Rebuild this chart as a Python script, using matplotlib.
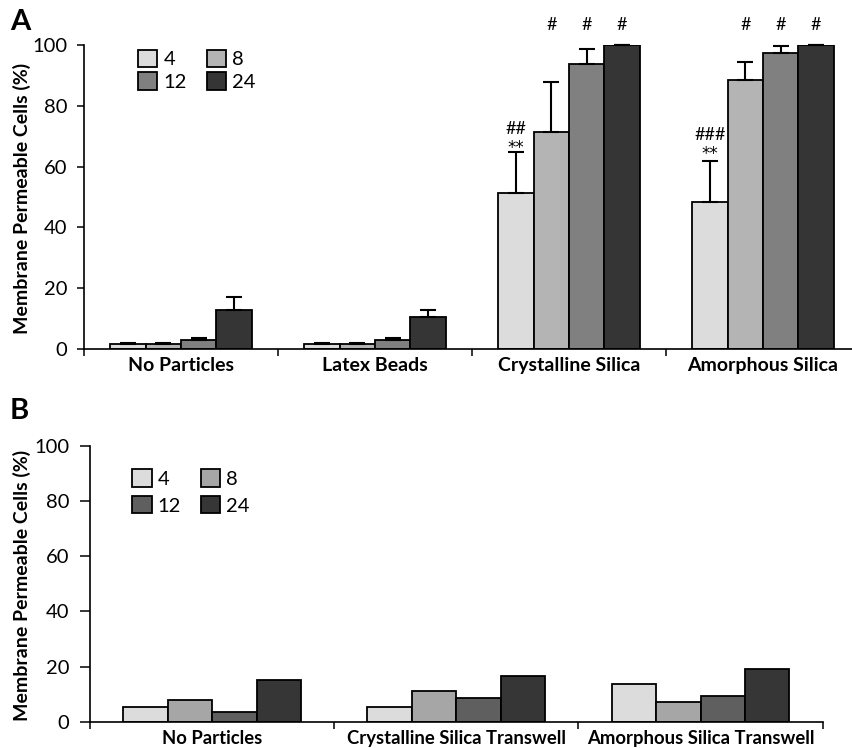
import numpy as np
import matplotlib
matplotlib.use("Agg")
import matplotlib.pyplot as plt

plt.rcParams['font.family'] = ['Lato', 'DejaVu Sans']

# exposure time (h) -> legend entries
hours = ["4", "8", "12", "24"]

# panel A
cats_a = ["No Particles", "Latex Beads", "Crystalline Silica", "Amorphous Silica"]
mean_a = {
    "4":  [1.5, 1.5, 51.2, 48.3],
    "8":  [1.5, 1.5, 71.3, 88.5],
    "12": [3.0, 3.0, 93.6, 97.3],
    "24": [12.9, 10.6, 100.0, 100.0],
}
err_a = {
    "4":  [0.6, 0.6, 13.5, 13.4],
    "8":  [0.6, 0.6, 16.5, 5.8],
    "12": [0.7, 0.6, 5.0, 2.3],
    "24": [4.3, 2.2, 0.0, 0.0],
}
colors_a = ["#dcdcdc", "#b4b4b4", "#808080", "#353535"]

# panel B
cats_b = ["No Particles", "Crystalline Silica Transwell", "Amorphous Silica Transwell"]
mean_b = {
    "4":  [5.4, 5.4, 13.6],
    "8":  [7.9, 11.1, 7.3],
    "12": [3.6, 8.5, 9.4],
    "24": [15.1, 16.6, 19.0],
}
colors_b = ["#dcdcdc", "#a6a6a6", "#5f5f5f", "#363636"]

W, H = 852, 748
fig = plt.figure(figsize=(W / 100, H / 100), dpi=100)

def px_axes(left, right, top, bottom):
    return fig.add_axes([left / W, 1 - bottom / H, (right - left) / W, (bottom - top) / H])

bw = 0.182
offs = (np.arange(4) - 1.5) * bw

def style(ax, cats, ticklen, pad, catsize):
    n = len(cats)
    ax.set_xlim(-0.5, n - 0.5)
    ax.set_ylim(0, 100)
    for s in ["top", "right"]:
        ax.spines[s].set_visible(False)
    for s in ["left", "bottom"]:
        ax.spines[s].set_linewidth(1.2)
    ax.set_yticks(np.arange(0, 101, 20))
    ax.tick_params(axis="y", direction="out", length=ticklen, width=1.1, pad=pad, labelsize=14.5)
    ax.set_xticks(np.arange(n))
    ax.set_xticklabels(cats, fontsize=catsize, fontweight="bold")
    ax.tick_params(axis="x", which="major", length=0, pad=6)
    ax.set_xticks(np.arange(n + 1) - 0.5, minor=True)
    ax.tick_params(axis="x", which="minor", direction="out", length=5, width=1.1)

def legend(ax, handles, anchor, rowgap):
    order = [0, 2, 1, 3]
    ax.legend([handles[i] for i in order], [hours[i] for i in order], ncol=2, frameon=False,
              loc="upper left", bbox_to_anchor=anchor, fontsize=14.5, handlelength=0.95,
              handleheight=0.95, handletextpad=0.3, columnspacing=1.0, labelspacing=rowgap,
              borderpad=0, borderaxespad=0)

# ---- A
ax = px_axes(84, 860, 45, 349)
x = np.arange(len(cats_a))
hs = []
for i, h in enumerate(hours):
    b = ax.bar(x + offs[i], mean_a[h], bw, color=colors_a[i], edgecolor="black", linewidth=1.3, zorder=2)
    hs.append(b)
    ax.errorbar(x + offs[i], mean_a[h], yerr=[np.zeros(len(x)), err_a[h]], fmt="none",
                ecolor="black", elinewidth=1.5, capsize=6, capthick=1.5, zorder=3, clip_on=False)
style(ax, cats_a, 5, 7, 14)
legend(ax, hs, (0.07, 0.985), 0.2)

# significance marks
for c in [2, 3]:
    for i in [1, 2, 3]:
        ax.text(c + offs[i], 106.5, "#", ha="center", va="center", fontsize=13)
ax.text(2 + offs[0], 72.5, "##", ha="center", va="center", fontsize=13)
ax.text(2 + offs[0], 66.0, "**", ha="center", va="center", fontsize=12, family="DejaVu Sans")
ax.text(3 + offs[0], 70.5, "###", ha="center", va="center", fontsize=13)
ax.text(3 + offs[0], 64.3, "**", ha="center", va="center", fontsize=12, family="DejaVu Sans")

fig.text(22 / W, 1 - 198 / H, "Membrane Permeable Cells (%)", rotation=90, ha="center", va="center",
         fontsize=14, fontweight="bold")
fig.text(10 / W, 1 - 22 / H, "A", ha="left", va="center", fontsize=21, fontweight="bold")

# ---- B
ax = px_axes(90, 822.7, 446, 721.7)
x = np.arange(len(cats_b))
hs = []
for i, h in enumerate(hours):
    b = ax.bar(x + offs[i], mean_b[h], bw, color=colors_b[i], edgecolor="black", linewidth=1.3, zorder=2)
    hs.append(b)
style(ax, cats_b, 7, 8, 13.3)
legend(ax, hs, (0.058, 0.915), 0.4)

fig.text(22 / W, 1 - 585 / H, "Membrane Permeable Cells (%)", rotation=90, ha="center", va="center",
         fontsize=14, fontweight="bold")
fig.text(10 / W, 1 - 411 / H, "B", ha="left", va="center", fontsize=21, fontweight="bold")

fig.savefig("out.png", dpi=100)
